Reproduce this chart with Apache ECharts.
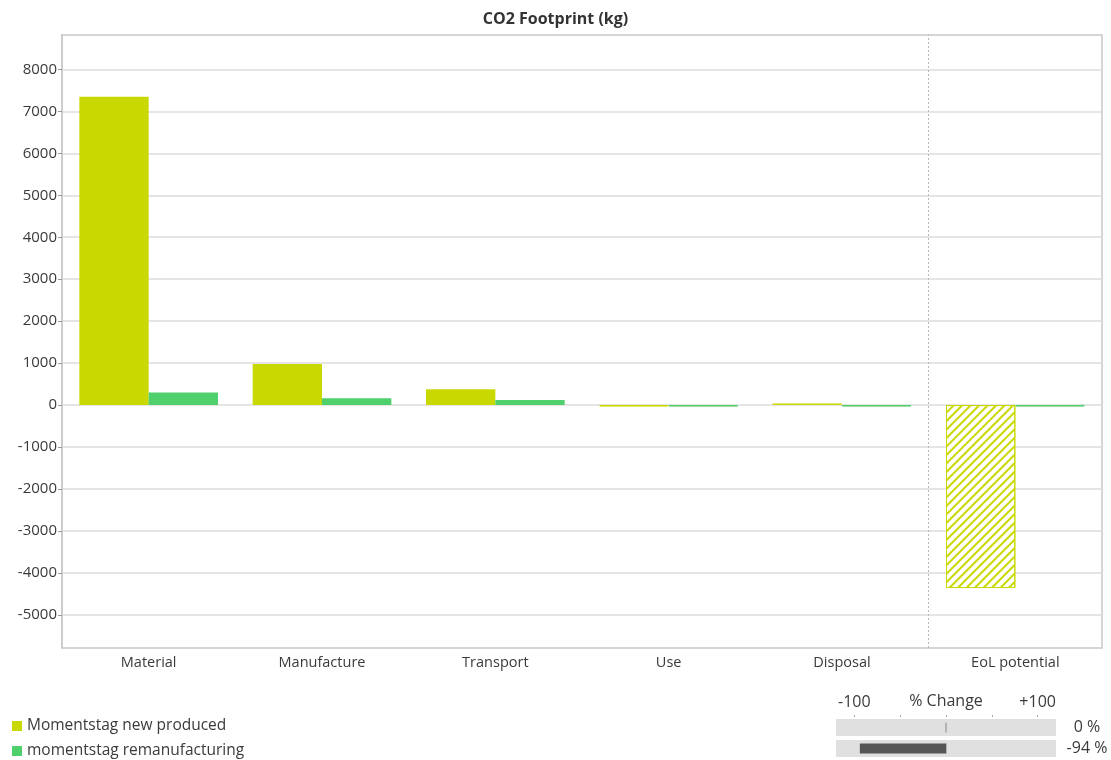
<!DOCTYPE html>
<html>
<head>
<meta charset="utf-8">
<title>CO2 Footprint (kg)</title>
<script src="https://cdn.jsdelivr.net/npm/echarts@6/dist/echarts.min.js"></script>
<style>
  html, body { margin: 0; padding: 0; background: #fff; }
  #chart { width: 1111px; height: 760px; }
</style>
</head>
<body>
<div id="chart"></div>
<script>
// Life-cycle stages on the x axis
const categories = ['Material', 'Manufacture', 'Transport', 'Use', 'Disposal', 'EoL potential'];
// CO2 per stage (kg)
const newProduced = [7350, 980, 375, -30, 40, -4360];
const remanufactured = [300, 160, 120, -30, -30, -30];
const seriesNames = ['Momentstag new produced', 'momentstag remanufacturing'];
// Y axis tick labels
const yTicks = [-5000, -4000, -3000, -2000, -1000, 0, 1000, 2000, 3000, 4000, 5000, 6000, 7000, 8000];
// % change versus the new product
const pctChange = [0, -94];
const pctTicks = [-100, -50, 0, 50, 100];
const pctLabels = [-100, 100];

const YELLOW = '#c8d800';
const GREEN = '#50d06c';
const FONT = '"Open Sans", "Noto Sans", sans-serif';
const TEXT = '#3a3a3a';

// Negative contributions (credits) are drawn hatched
function hatched(color) {
  return {
    color: '#ffffff',
    borderColor: color,
    borderWidth: 1,
    decal: {
      symbol: 'rect',
      color: color,
      backgroundColor: null,
      dashArrayX: [1, 0],
      dashArrayY: [2, 4],
      rotation: -Math.PI / 4,
      symbolSize: 1
    }
  };
}
function withHatch(values, color) {
  return values.map(v => v < 0 ? { value: v, itemStyle: hatched(color) } : v);
}

const chart = echarts.init(document.getElementById('chart'), null, { renderer: 'canvas' });

chart.setOption({
  animation: false,
  textStyle: { fontFamily: FONT },
  title: {
    text: 'CO2 Footprint (kg)',
    left: 'center',
    top: 6,
    textStyle: { fontFamily: FONT, fontSize: 16, fontWeight: 'bold', color: '#333' }
  },
  legend: {
    orient: 'vertical',
    left: 12,
    top: 718,
    height: 42,
    padding: 0,
    itemWidth: 10,
    itemHeight: 10,
    itemGap: 9,
    icon: 'rect',
    data: seriesNames,
    textStyle: { fontFamily: FONT, fontSize: 15.5, lineHeight: 16, color: TEXT, padding: [0, 0, 0, 0] }
  },
  grid: [
    { left: 62, right: 9, top: 35, bottom: 112, show: true, borderColor: '#c8c8c8', borderWidth: 1.5, containLabel: false },
    { left: 836, right: 55, top: 717, height: 42, containLabel: false }
  ],
  xAxis: [
    {
      type: 'category',
      gridIndex: 0,
      data: categories,
      axisLine: { show: false },
      axisTick: { show: false },
      axisLabel: { fontFamily: FONT, fontSize: 14.5, color: TEXT, margin: 7 },
      splitLine: { show: false }
    },
    {
      // hidden linear axis used to place the separator between stages
      type: 'value',
      gridIndex: 0,
      min: 0,
      max: categories.length,
      show: false
    },
    {
      type: 'value',
      gridIndex: 1,
      position: 'top',
      min: -120,
      max: 120,
      name: '% Change',
      nameLocation: 'middle',
      nameGap: 8,
      nameMoveOverlap: false,
      nameTextStyle: { fontFamily: FONT, fontSize: 16, color: TEXT, verticalAlign: 'bottom' },
      axisLine: { show: false },
      axisTick: { show: true, customValues: pctTicks, length: 2, lineStyle: { color: '#aaa', width: 1 } },
      axisLabel: {
        show: true,
        customValues: pctLabels,
        margin: 7,
        fontFamily: FONT,
        fontSize: 16,
        color: TEXT,
        formatter: v => (v > 0 ? '+' + v : String(v))
      },
      splitLine: { show: false }
    }
  ],
  yAxis: [
    {
      type: 'value',
      gridIndex: 0,
      min: -5790,
      max: 8820,
      axisLine: { show: true, lineStyle: { color: '#c8c8c8', width: 1.5 } },
      axisTick: { show: true, customValues: yTicks, length: 4, lineStyle: { color: '#999' } },
      axisLabel: {
        customValues: yTicks,
        fontFamily: FONT,
        fontSize: 15,
        color: TEXT,
        margin: 5,
        formatter: v => String(v)
      },
      splitLine: { show: true, lineStyle: { color: '#dcdcdc', width: 1.5 } }
    },
    {
      type: 'category',
      gridIndex: 1,
      inverse: true,
      data: seriesNames,
      show: false
    },
    {
      type: 'category',
      gridIndex: 1,
      inverse: true,
      position: 'right',
      data: seriesNames,
      axisLine: { show: false },
      axisTick: { show: false },
      axisLabel: {
        show: true,
        margin: 31,
        align: 'center',
        fontFamily: FONT,
        fontSize: 16,
        color: TEXT,
        formatter: (v, i) => pctChange[i] + ' %'
      }
    }
  ],
  series: [
    {
      name: seriesNames[0],
      type: 'bar',
      xAxisIndex: 0,
      yAxisIndex: 0,
      data: withHatch(newProduced, YELLOW),
      itemStyle: { color: YELLOW },
      barGap: '0%',
      barCategoryGap: '20%'
    },
    {
      name: seriesNames[1],
      type: 'bar',
      xAxisIndex: 0,
      yAxisIndex: 0,
      data: withHatch(remanufactured, GREEN),
      itemStyle: { color: GREEN },
      barGap: '0%',
      barCategoryGap: '20%'
    },
    {
      // dotted separator before the end-of-life stage
      type: 'line',
      xAxisIndex: 1,
      yAxisIndex: 0,
      data: [],
      silent: true,
      markLine: {
        silent: true,
        symbol: ['none', 'none'],
        label: { show: false },
        lineStyle: { color: '#b8b8b8', type: [2, 2], width: 1 },
        data: [{ xAxis: categories.length - 1 }]
      }
    },
    {
      // grey tracks behind the % change bars
      type: 'bar',
      xAxisIndex: 2,
      yAxisIndex: 1,
      data: pctChange.map(() => 0),
      barWidth: 17,
      showBackground: true,
      backgroundStyle: { color: '#e0e0e0' },
      itemStyle: { color: 'rgba(0,0,0,0)' },
      silent: true,
      z: 1
    },
    {
      // zero marker in each track
      type: 'scatter',
      xAxisIndex: 2,
      yAxisIndex: 2,
      data: pctChange.map((v, i) => [0, i]),
      symbol: 'rect',
      symbolSize: [2, 10],
      itemStyle: { color: '#a8a8a8' },
      silent: true,
      z: 2
    },
    {
      type: 'bar',
      xAxisIndex: 2,
      yAxisIndex: 2,
      data: pctChange,
      barWidth: 10,
      itemStyle: { color: '#555555' },
      silent: true,
      z: 3
    }
  ]
});
</script>
</body>
</html>
